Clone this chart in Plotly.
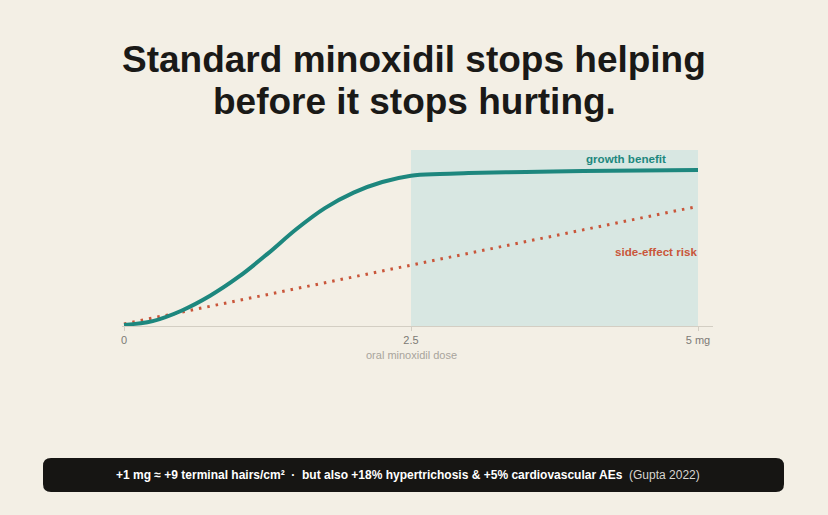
import plotly.graph_objects as go

# 용량 (mg)
dose = [0, 0.25, 0.5, 0.75, 1.0, 1.25, 1.5, 1.75, 2.0, 2.25, 2.5, 2.75, 3.0, 3.5, 4.0, 4.5, 5.0]
# 성장 효과 (상대값)
benefit = [0.006, 0.028, 0.087, 0.172, 0.28, 0.41, 0.55, 0.67, 0.758, 0.818, 0.854, 0.864, 0.869, 0.875, 0.88, 0.884, 0.886]
# 부작용 위험 (직선)
risk_dose = [0, 5]
risk = [0.012, 0.68]

tick_vals = [0, 2.5, 5]
tick_text = ["0", "2.5", "5 mg"]

title_lines = ["Standard minoxidil stops helping", "before it stops hurting."]

BG = "#f3efe5"
TEAL = "#1d877e"
RED = "#c9563a"
FONT = "Liberation Sans"

W, H = 828, 515

def px_x(p):
    return p / W

def px_y(p):
    return 1 - p / H

fig = go.Figure()

fig.add_trace(go.Scatter(x=risk_dose, y=risk, mode="lines",
                         line=dict(color=RED, width=3, dash="2.5px,6px"),
                         hoverinfo="skip"))
fig.add_trace(go.Scatter(x=dose, y=benefit, mode="lines",
                         line=dict(color=TEAL, width=4, shape="spline", smoothing=1.0),
                         hoverinfo="skip"))

# 2.5mg 이상 음영
fig.add_shape(type="rect", xref="x", yref="y", x0=2.5, x1=5, y0=0, y1=1,
              fillcolor="#d8e7e2", line_width=0, layer="below")

# 하단 검은 박스 (둥근 모서리)
x0, x1, y0, y1 = 43, 784, 458, 492
r = 8
path = (f"M {px_x(x0 + r)},{px_y(y0)} L {px_x(x1 - r)},{px_y(y0)} "
        f"Q {px_x(x1)},{px_y(y0)} {px_x(x1)},{px_y(y0 + r)} "
        f"L {px_x(x1)},{px_y(y1 - r)} Q {px_x(x1)},{px_y(y1)} {px_x(x1 - r)},{px_y(y1)} "
        f"L {px_x(x0 + r)},{px_y(y1)} Q {px_x(x0)},{px_y(y1)} {px_x(x0)},{px_y(y1 - r)} "
        f"L {px_x(x0)},{px_y(y0 + r)} Q {px_x(x0)},{px_y(y0)} {px_x(x0 + r)},{px_y(y0)} Z")
fig.add_shape(type="path", xref="paper", yref="paper", path=path,
              fillcolor="#161513", line_width=0)

# 제목 (두 줄 따로)
for line, yc in zip(title_lines, [60, 101]):
    fig.add_annotation(xref="paper", yref="paper", x=0.5, y=px_y(yc),
                       text=line, showarrow=False, xanchor="center", yanchor="middle",
                       font=dict(family=FONT, size=37, color="#1a1917", weight="bold"))

# 라벨
fig.add_annotation(x=4.74, y=0.95, text="growth benefit", showarrow=False,
                   xanchor="right", yanchor="middle",
                   font=dict(family=FONT, size=11.6, color=TEAL, weight="bold"))
fig.add_annotation(x=5.01, y=0.426, text="side-effect risk", showarrow=False,
                   xanchor="right", yanchor="middle",
                   font=dict(family=FONT, size=11.6, color=RED, weight="bold"))

# x축 제목
fig.add_annotation(x=2.5, y=px_y(355), yref="paper", text="oral minoxidil dose",
                   showarrow=False, xanchor="center", yanchor="middle",
                   font=dict(family=FONT, size=11, color="#a8a49c"))

# 하단 설명
fig.add_annotation(xref="paper", yref="paper", x=px_x(408), y=px_y(475),
                   text="<b>+1 mg ≈ +9 terminal hairs/cm²  ·  but also +18% hypertrichosis &amp; +5% cardiovascular AEs</b>"
                        "  <span style='color:#d8d6d0'>(Gupta 2022)</span>",
                   showarrow=False, xanchor="center", yanchor="middle",
                   font=dict(family=FONT, size=12, color="#ffffff"))

fig.update_xaxes(domain=[px_x(121.7), px_x(712.7)], range=[-0.02, 5.128],
                 anchor="free", position=px_y(326),
                 showgrid=False, zeroline=False, showline=True, linecolor="#d3cec3", linewidth=1,
                 ticks="outside", ticklen=4, tickcolor="#d3cec3",
                 tickvals=tick_vals, ticktext=tick_text,
                 tickfont=dict(family=FONT, size=11, color="#7c7a75"))
fig.update_yaxes(domain=[px_y(331.3), px_y(150)], range=[-0.03, 1],
                 showgrid=False, zeroline=False, showline=False, showticklabels=False)

fig.update_layout(width=W, height=H, margin=dict(l=0, r=0, t=0, b=0),
                  paper_bgcolor=BG, plot_bgcolor=BG, showlegend=False)

# 페이지 기본 여백 제거
fig.write_html("out.html", config={"displayModeBar": False},
               post_script="document.body.style.margin='0';")
